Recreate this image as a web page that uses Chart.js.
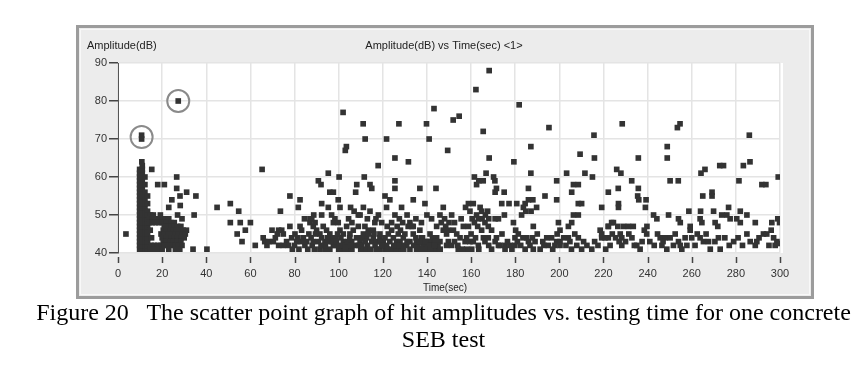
<!DOCTYPE html>
<html>
<head>
<meta charset="utf-8">
<script src="https://cdn.jsdelivr.net/npm/chart.js@4.4.1/dist/chart.umd.min.js"></script>
<style>
  html, body { margin: 0; padding: 0; background: #ffffff; }
  #wrap { position: relative; width: 867px; height: 368px; overflow: hidden; }
  #c { position: absolute; left: 0; top: 0; }
  #caption {
    position: absolute; left: 10px; top: 299px; width: 867px;
    text-align: center; font-family: "Liberation Serif", "Times New Roman", serif;
    font-size: 24px; line-height: 27px; color: #000;
  }
</style>
</head>
<body>
<div id="wrap">
  <canvas id="c" width="867" height="368"></canvas>
  <div id="caption">Figure 20&nbsp;&nbsp; The scatter point graph of hit amplitudes vs. testing time for one concrete<br>SEB test</div>
</div>
<script>
// ---- Data (time in sec, amplitude in dB) ----
const xTickValues = [0, 20, 40, 60, 80, 100, 120, 140, 160, 180, 200, 220, 240, 260, 280, 300];
const yTickValues = [40, 50, 60, 70, 80, 90];
const chartTitle = "Amplitude(dB) vs Time(sec) <1>";
const yAxisTitle = "Amplitude(dB)";
const xAxisTitle = "Time(sec)";
const circledHits = [[10.7, 70.5], [27.3, 80]];

const hitsColumn = [
  [9.8,41],[9.8,42],[9.8,43],[9.8,44],[9.8,45],[9.8,46],[9.8,47],[9.8,48],[9.8,49],[9.8,50],[9.8,51],
  [9.8,52],[9.8,53],[9.8,54],[9.8,55],[9.8,56],[9.8,57],[9.8,58],[9.8,59],[9.8,60],[9.8,61],[9.8,62],
  [11,41],[11,42],[11,43],[11,44],[11,45],[11,46],[11,47],[11,48],[11,49],[11,50],[11,51],[11,52],
  [11,53],[11,54],[11,55],[11,56],[11,57],[11,58],[11,59],[11,60],[11,61],[11,62],[11,63],
  [12.2,41],[12.2,42],[12.2,43],[12.2,44],[12.2,45],[12.2,46],[12.2,47],[12.2,48],[12.2,49],[12.2,50],
  [12.2,51],[12.2,52],[12.2,53],[12.2,54],[12.2,56],[12.2,58],[12.2,60],
  [13.4,41],[13.4,42],[13.4,43],[13.4,44],[13.4,45],[13.4,46],[13.4,47],[13.4,48],[13.4,49],[13.4,50],
  [13.4,51],[13.4,53],[13.4,55],
  [10.8,64],[10.7,70],[10.7,71]
];

const hitsBlock = [
  [13.8,50],[14.8,50],[16,50],[19.2,50],[27,50],[34.5,50],
  [14.2,49],[15.6,49],[17,49],[18.5,49],[20,49],[21.5,49],[23,49],[29,49],
  [14.2,48],[15.6,48],[17,48],[18.5,48],[20,48],[22,48],[24,48],[25.5,48],
  [21,47],[22.5,47],[24,47],[25.5,47],[27,47],[28.5,47],
  [14.6,46],[20.5,46],[22,46],[23.5,46],[25,46],[26.5,46],[28,46],[29.5,46],[31,46],
  [19.5,45],[21,45],[23,45],[24.5,45],[26,45],[27.5,45],[29,45],[30.5,45],
  [15.2,44],[20,44],[22,44],[24,44],[25.5,44],[27,44],[28.5,44],[30,44],
  [20.5,43],[22,43],[23.5,43],[25,43],[27,43],[28.5,43],
  [15,42],[16.5,42],[18,42],[19.5,42],[21,42],[22.5,42],[24.5,42],[26,42],[27.5,42],[29,42],
  [14.5,41],[15.8,41],[17,41],[18.5,41],[20,41],[23,41],[26,41],[28,41],[34,41],[40.3,41]
];

const hitsEarly = [
  [3.6,45],[15.3,62],[18,58],[21,58],[26.6,60],[26.6,57],[31.1,56],[35.3,55],[24.4,54],[28.1,55],
  [28.2,52.5],[23,52],[27.3,80],
  [44.9,52],[50.9,53],[54.7,51],[50.9,48],[55.4,48],[60,48],[57.7,46],[54,45],[56.2,43],[62.2,42],
  [65.3,62],[65.8,44],[66.5,43],[67.5,42],[68.3,43],[69.8,46],[70.4,43],[71.3,44],[72.2,45],[72.8,46],
  [72.8,42],[73.6,51]
];

const hitsMidUpper = [
  [77.9,55],[82.5,54],[81.7,52],[84.5,49],[87,49],[88.7,50],[87,48],[88.5,47],
  [90.8,59],[92,58],[92.3,53],[92.3,50],[95.3,52],[95.3,61],[96,56],[97.6,56],[96.8,50],[100.2,60],
  [99.8,54],[100.6,52],[102,77],[103.5,68],[103,67],[105.4,52],[107,51],[107.7,56],[108.2,58],
  [108.9,50],[111.1,74],[112,70],[111.6,60],[111.2,52],[109.7,50],[114.2,58],[115,57],[114.2,51],
  [116.9,49],[116.4,48],[117.9,63],[121.7,70],[121,55],[123.2,54],[121.7,52],[125.5,59],[125.5,57],
  [125.5,65],[125.5,50],[124,48],[127.3,74],[128.5,52],[131.6,64],[133.8,54],[132.3,48],[133.8,47],
  [136.8,57],[139.1,53],[139.8,74],[141,70],[142.1,49],[143.2,78],[144.1,57],[145.9,50],[147.4,52],
  [149.4,67],[151.9,75],[154.6,76],
  [104.5,49],[106,48],[113,49],[118,50],[119.5,48],[122,47],[127.5,49],[129,48],[131,50],[135,49],
  [137.5,48],[140,50],[146.5,48],[148,49],[152.5,48],[155.5,49],[156.5,47],[157.5,52]
];

const hitsMidLower = [
  [74.2,46],[74.9,45],[76.4,43],[78.7,44],[80.2,45],[81,43],[77.2,42],[74.9,42],[77.9,47],[83.2,46],
  [84,44],[84.7,42],[82.5,47],
  [87.8,49],[89.3,48],[90,46],[91.5,45],[93,47],[94.5,46],[96,45],[90.8,43],[92.3,44],[93.8,43],
  [95.3,43],[96.8,44],[91.5,41],[93.8,41],[97.6,42],[97.6,48],[98.3,49],
  [99.8,48],[100.6,46],[102.1,45],[103.6,47],[105.1,45],[105.9,43],[106.6,46],[108.1,44],[109.7,43],
  [111.2,45],[112.7,44],[102.1,43],[103.6,42],[101.4,41],[107.4,42],[110.4,42],[113.4,46],[111.9,47],
  [108.9,47],
  [115,43],[115.7,44],[117.2,43],[118.7,44],[120.2,43],[121.7,42],[123.2,43],[124.8,44],[126.3,43],
  [116.5,42],[118.7,41],[121,41],[124,41],[126.3,41],[115.7,46],[118.7,45],
  [127.8,43],[129.3,44],[130.8,42],[132.3,43],[133.8,45],[135.3,43],[136.8,46],[137.6,44],[128.5,41],
  [132.3,41],[135.3,41],[138.4,42],[133.1,47],
  [139.9,43],[141.4,45],[142.9,43],[144.4,44],[145.9,43],[147.4,46],[148.9,45],[149.7,43],[140.6,42],
  [144.4,41],[148.9,42],[144.4,47],
  [138,41],[139,42],[140,41],[141,43],[142,42],[143,41],[145,42],[146,41],[137,43],[136,42],[134,42],
  [131,43],[129,42],[127,42],[125,42],[122,41],[120,42],[119,43],[117,41],[113,42],[112,41],[110,41],
  [109,42],[106,41],[104,41],[100,41],[98,42],[96,41],[94,42],[92,42],[89,41],[88,42],[86,41],
  [135,44],[136.5,43],[138,44],[139.5,43],[141,42],[142.5,44],[144,43],[135.5,41.5],[137.5,41],
  [139.5,41],[141.5,41],[143.5,42],
  [97,43],[98.5,44],[99.5,45],[101,44],[102.5,42],[104,43],[105,44],[99,43],[100.5,42],[103,41],
  [105.5,42],[95,44],
  [80,42],[82,41],[83,43],[85.5,43],[86.5,45],[87.5,44],[88.5,43],[89.5,45],[81.5,44],[79,41],
  [110.5,44],[112,43],[113.5,45],[114.5,41],[116,45],[119.5,42],[121,44],[122.5,45],[124,46],[127,45],
  [128,46],[130,45],[131.5,47],[129.5,41],[126.5,47]
];

const hitsLate = [
  [168.2,88],[162.2,83],[181.8,79],[165.5,72],[195.3,73],[187.1,68],[168.2,65],[179.4,64],[187.1,61],
  [203.3,61],[211.6,61],[215,60],[161.5,60],[166.8,61],[170.2,60],[162.5,58],[163.5,59],[165.5,59],
  [170.8,59],[171.5,57],[170.9,56],[175,56],[186,57],[198.8,59],[206.4,58],[208.6,58],[205.6,56],
  [209.4,66],[215.9,65],[215.7,71],[222.2,56],[219.2,52],
  [193.5,55],[198.8,54],[186,54],[188,54],[158.8,53],[161,53],[173.9,53],[177.2,53],[180.7,53],
  [184.5,53],[208.6,53],[210.1,53],[164.1,52],[164.8,51],[167.5,51],[183.7,52],[184.8,51],[189.7,52],
  [151.2,50],[162.5,50],[163.3,49],[170.9,49],[172.4,49],[175.1,50],[182.9,50],[187.2,51],[206.4,50],
  [208.6,50],[166.3,48],[167.8,47],[169.3,46],[158.8,47],[179.2,48],[180.2,46],[181.4,45],[188.2,47],
  [199.6,48],[200.3,46],[204.1,47],[205.6,48],[223.7,48],[222.2,47],[219.2,45],[150,48],
  [148.5,47],[149.7,46],[152,46],[153.5,45],[155,44],[157.3,43],[159.5,43],[161,43],[163.3,42],
  [164.8,46],[165.6,44],[166.3,43],[167.8,44],[170.9,43],[173.1,42],[175.4,42],[177.7,42],[179.9,42],
  [185.2,44],[186,43],[187.8,44],[189,43],[186.7,42],[184.5,41],[188.2,41],[191.3,41],[194.3,44],
  [196.5,44],[198.8,43],[200.3,43],[195,42],[198,42],[200.3,42],[204.1,44],[204.8,43],[207.9,42],
  [210.1,41],[214.7,41],[208.6,44],[219.2,44],[222.2,44],[223,42],[151.2,42],[154.2,41],[158,41],
  [160.3,41],[169.3,41],[172.4,42],[175.4,41],[179.9,44],
  [224.5,48],[222.2,47],[220.7,44],
  [152.5,43],[154,42],[156,41],[158,44],[160,45],[162,44],[163.5,41],[168,42],[171.5,44],[174,45],
  [176.5,43],[178.5,41],[181,43],[182.5,42],[183.5,44],[190,45],[192.5,43],[193,42],[197,41],[199,45],
  [202,44],[203,42],[205.5,41],[207,45],[211,43],[212.5,42],[216,43],[217.5,42],[218.5,46],[221,41],
  [159.5,51],[160.5,49],[161.5,48],[163,47],[165,49],[166.5,50],[168,49]
];

const hitsEnd = [
  [228.5,74],[253.5,73],[254.7,74],[286.1,71],[248.9,68],[248.9,65],[235.8,65],[226,62],[227.9,61],
  [272.7,63],[274.4,63],[283.4,63],[286.4,64],[264.2,61],[266,62],[299.2,60],[250.2,59],[253.9,59],
  [232.8,59],[281.4,59],[291.8,58],[293.6,58],[226.7,57],[235.8,57],[235.5,55],[236,54],[239.3,54],
  [226.8,53],[226.8,52],[239,52],[265,55],[269.2,56],[269.2,55],[258.7,51],[264,51],[269.9,51],
  [276.7,52],[282,51],[285,50],[242.7,50],[244.2,49],[249.5,50],[254,49],[254.8,48],[263.8,49],
  [264.6,48],[270.6,48],[271.8,47],[273.6,50],[275.9,50],[277.4,49],[280.4,49],[282,48],[288.8,48],
  [296.3,48],[299,49],[299.8,48],[226.5,47],[229.1,47],[231.3,47],[233.5,47],[239.7,47],[227.6,45],
  [228.3,44],[232.9,44],[227.1,43],[228.3,42],[235.1,42],[236.6,41],[245.7,44],[248,44],[250.2,44],
  [252.5,45],[254,43],[254.8,42],[246.5,42],[248.7,41],[251.7,42],[255.5,41],[257.8,42],[259.3,47],
  [259.3,46],[260,44],[263.8,44],[265.3,43],[267.6,43],[268.4,41],[272.9,41],[272.1,44],[289.5,43],
  [288.8,42],[292.5,45],[294,45],[297.1,44],[298.6,43],[297.8,42],[299.8,42.5],[239.6,45],
  [224,45],[225.5,44],[230,43],[231.5,45],[234,42],[237.5,43],[238.5,46],
  [241,43],[243,42],[244.5,45],[247,43],[257,44],[261.5,42],[262.5,45],[266.5,45],[270.5,43],[275,44],
  [277,42],[279,43],[281,44],[283,42],[285,45],[286.5,43],[290.5,44],[295,42],[296,46]
];

const allHits = [].concat(hitsColumn, hitsBlock, hitsEarly, hitsMidUpper, hitsMidLower, hitsLate, hitsEnd);
const scatterData = allHits.map(p => ({ x: p[0], y: p[1] }));

// ---- Frame / decoration plugin ----
const framePlugin = {
  id: 'frame',
  beforeDraw(chart) {
    const ctx = chart.ctx;
    const a = chart.chartArea;
    ctx.save();
    ctx.fillStyle = '#ffffff';
    ctx.fillRect(0, 0, chart.width, chart.height);
    ctx.fillStyle = '#ececec';
    ctx.fillRect(78, 27, 734, 270);
    ctx.strokeStyle = '#9c9c9c';
    ctx.lineWidth = 3;
    ctx.strokeRect(77.5, 26.5, 735, 271);
    ctx.strokeStyle = '#f8f8f8';
    ctx.lineWidth = 1;
    ctx.strokeRect(80.5, 29.5, 729, 265);
    ctx.fillStyle = '#ffffff';
    ctx.fillRect(a.left, a.top, a.right - a.left + 3, a.bottom - a.top);
    ctx.fillStyle = '#222';
    ctx.font = '11px "Liberation Sans", Arial, sans-serif';
    ctx.textBaseline = 'middle';
    ctx.textAlign = 'left';
    ctx.fillText(yAxisTitle, 87, 46);
    ctx.textAlign = 'center';
    ctx.fillText(chartTitle, (a.left + a.right) / 2 - 5, 46);
    ctx.font = '10px "Liberation Sans", Arial, sans-serif';
    ctx.fillText(xAxisTitle, (a.left + a.right) / 2 - 4, 288);
    ctx.restore();
  },
  afterDraw(chart) {
    const ctx = chart.ctx;
    const xs = chart.scales.x, ys = chart.scales.y;
    const a = chart.chartArea;
    ctx.save();
    ctx.strokeStyle = '#444';
    ctx.lineWidth = 1.5;
    xTickValues.forEach(v => {
      const px = Math.round(xs.getPixelForValue(v)) + 0.5;
      ctx.beginPath();
      ctx.moveTo(px, a.bottom + 4);
      ctx.lineTo(px, a.bottom + 10);
      ctx.stroke();
    });
    ctx.strokeStyle = '#8a8a8a';
    ctx.lineWidth = 2;
    circledHits.forEach(p => {
      ctx.beginPath();
      ctx.arc(xs.getPixelForValue(p[0]), ys.getPixelForValue(p[1]), 11, 0, Math.PI * 2);
      ctx.stroke();
    });
    ctx.restore();
  }
};

new Chart(document.getElementById('c'), {
  type: 'scatter',
  data: {
    datasets: [{
      data: scatterData,
      pointStyle: 'rect',
      pointRadius: 4,
      pointHoverRadius: 4,
      pointBackgroundColor: '#333333',
      pointBorderColor: '#333333',
      pointBorderWidth: 0
    }]
  },
  options: {
    responsive: false,
    animation: false,
    events: [],
    layout: { padding: { left: 78, right: 87, top: 63, bottom: 75 } },
    plugins: { legend: { display: false }, tooltip: { enabled: false }, title: { display: false } },
    scales: {
      x: {
        type: 'linear', min: 0, max: 300,
        afterFit: s => { s.height = 40; },
        afterBuildTicks: s => { s.ticks = xTickValues.map(v => ({ value: v })); },
        grid: { color: '#e4e4e4', lineWidth: 1.5, drawTicks: false },
        border: { display: false },
        ticks: { padding: 14, color: '#333', font: { family: '"Liberation Sans", Arial, sans-serif', size: 11 }, maxRotation: 0, autoSkip: false }
      },
      y: {
        type: 'linear', min: 40, max: 90,
        afterFit: s => { s.width = 40; },
        afterBuildTicks: s => { s.ticks = yTickValues.map(v => ({ value: v })); },
        grid: { color: '#e4e4e4', lineWidth: 1.5, drawTicks: true, tickLength: 9, tickColor: '#444', tickWidth: 1.5 },
        border: { display: true, color: '#555', width: 1 },
        ticks: { padding: 2, color: '#333', font: { family: '"Liberation Sans", Arial, sans-serif', size: 11 } }
      }
    }
  },
  plugins: [framePlugin]
});
</script>
</body>
</html>
